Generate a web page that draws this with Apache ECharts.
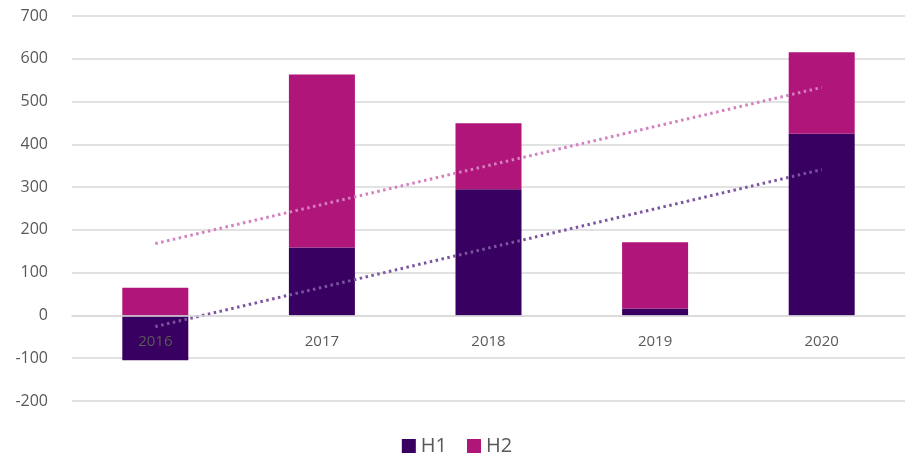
<!DOCTYPE html>
<html>
<head>
<meta charset="utf-8">
<title>H1 / H2</title>
<script src="https://cdn.jsdelivr.net/npm/echarts@6/dist/echarts.min.js"></script>
<style>
	html, body {margin:0;padding:0;background:#fff;}
	#chart {width:914px;height:465px;}
</style>
</head>
<body>
<div id="chart"></div>
<script>
var years = ['2016', '2017', '2018', '2019', '2020'];
var h1 = [-105, 159, 295, 16, 425];
// H2 sits on 0 in 2016 since H1 is negative there
var h2 = [65, 404, 154, 155, 190];
// dotted trend lines (first and last year)
var trendH1 = [-26, 341];
var trendTotal = [168, 533];
var yTicks = {min: -200, max: 700, step: 100};

var chart = echarts.init(document.getElementById('chart'));
var labelColor = '#595959';
var font = '"Open Sans", "Noto Sans", sans-serif';
var gridTop = 16, gridBottom = 64, height = 465;
// move the category axis up to the zero line
var plotH = height - gridTop - gridBottom;
var zeroShift = -plotH * (0 - yTicks.min) / (yTicks.max - yTicks.min);

chart.setOption({
	animation: false,
	grid: {left: 72, right: 9, top: gridTop, bottom: gridBottom},
	legend: {
		data: ['H1', 'H2'],
		bottom: 4,
		left: 'center',
		icon: 'rect',
		itemWidth: 14,
		itemHeight: 14,
		itemGap: 20,
		textStyle: {color: labelColor, fontSize: 20, fontFamily: font}
	},
	xAxis: {
		type: 'category',
		data: years,
		z: 5,
		position: 'bottom',
		offset: zeroShift,
		axisLine: {show: true, onZero: false, lineStyle: {color: '#d9d9d9', width: 1.5}},
		axisTick: {show: false},
		axisLabel: {color: labelColor, fontSize: 15, fontFamily: font, margin: 19}
	},
	yAxis: {
		type: 'value',
		min: yTicks.min,
		max: yTicks.max,
		interval: yTicks.step,
		axisLine: {show: false},
		axisTick: {show: false},
		splitLine: {lineStyle: {color: '#d9d9d9', width: 1.5}},
		axisLabel: {color: labelColor, fontSize: 16, fontFamily: font, margin: 24}
	},
	series: [
		{
			name: 'H1', type: 'bar', stack: 'a', data: h1,
			barWidth: 66,
			itemStyle: {color: '#380060'}
		},
		{
			name: 'H2', type: 'bar', stack: 'a', data: h2,
			barWidth: 66,
			itemStyle: {color: '#b0157a'}
		},
		{
			name: 'trendTotal', type: 'line', z: 4,
			data: [[years[0], trendTotal[0]], [years[4], trendTotal[1]]],
			symbol: 'none',
			lineStyle: {color: '#d47fc0', width: 3, type: [2.5, 3.5], cap: 'butt'}
		},
		{
			name: 'trendH1', type: 'line', z: 4,
			data: [[years[0], trendH1[0]], [years[4], trendH1[1]]],
			symbol: 'none',
			lineStyle: {color: '#7b55a0', width: 3, type: [2.5, 3.5], cap: 'butt'}
		}
	]
});
</script>
</body>
</html>
